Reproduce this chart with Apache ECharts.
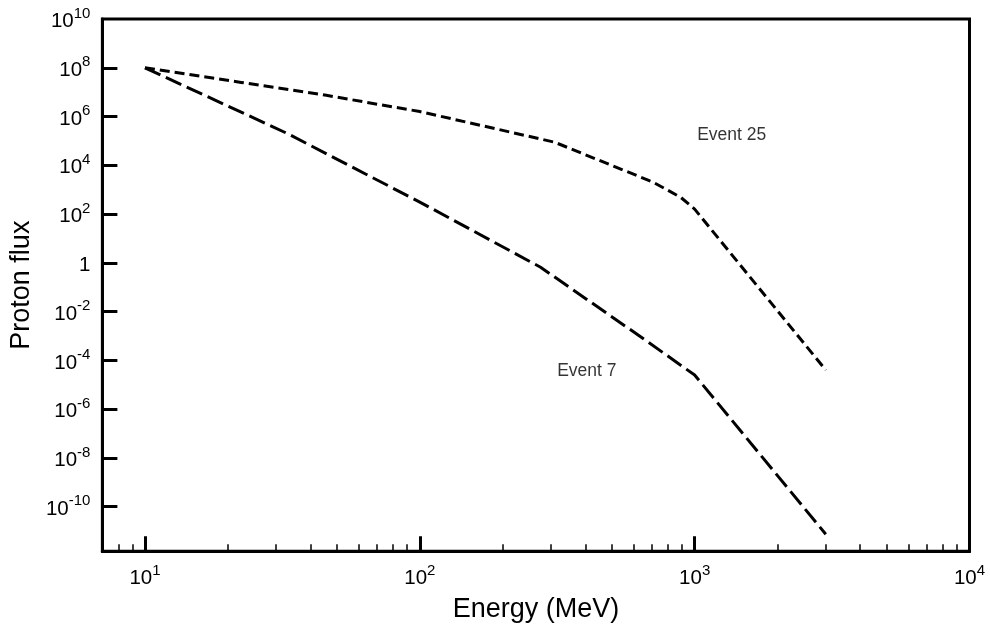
<!DOCTYPE html>
<html>
<head>
<meta charset="utf-8">
<script src="https://cdn.jsdelivr.net/npm/echarts@6/dist/echarts.min.js"></script>
<style>html,body{margin:0;padding:0;background:#fff}#c{width:990px;height:629px}</style>
</head>
<body>
<div id="c"></div>
<script>
// Data (energy in MeV, flux)
const energy25 = [10, 22.4, 45.7, 100, 309, 708, 891, 1000, 3000];
const flux25   = [1e8, 2.5e7, 7.4e6, 1.6e6, 8.9e4, 2.0e3, 4.8e2, 1.6e2, 4e-5];
const energy7  = [10, 33, 100, 275, 630, 1000, 3000];
const flux7    = [1e8, 2.0e5, 3.1e2, 0.66, 1.0e-3, 2.5e-5, 7.4e-12];

// Axis ticks
const xMajorExp = [1, 2, 3, 4];
const xMinorValues = [8, 9, 20, 30, 40, 50, 60, 70, 80, 90, 200, 300, 400, 500, 600, 700, 800, 900,
                      2000, 3000, 4000, 5000, 6000, 7000, 8000, 9000];
const yMajorExp = [-10, -8, -6, -4, -2, 0, 2, 4, 6, 8, 10];
const xRange = [7, 10000];
const yRangeExp = [-11.83, 10];

// Annotations
const labelTexts = ['Event 25', 'Event 7'];
const labelEnergy = [1021, 316];
const labelFlux = [1.8e5, 3.5e-5];

const L = Math.log10;
const FONT = "'Liberation Sans', Arial, Helvetica, sans-serif";

function pairs(xs, ys) { return xs.map((x, i) => [L(x), L(ys[i])]); }

const richLabel = {
  b:  { fontSize: 20.5, lineHeight: 20, verticalAlign: 'bottom', fontFamily: FONT, color: '#000' },
  s:  { fontSize: 15, lineHeight: 15, verticalAlign: 'top', fontFamily: FONT, color: '#000' },
  z:  { fontSize: 1, lineHeight: 26, fontFamily: FONT }
};
function expLabel(v) {
  const e = Math.round(v);
  if (e === 0) return '{z|\u200b}{b|1}';
  return '{z|\u200b}{b|10}{s|' + e + '}';
}

const chart = echarts.init(document.getElementById('c'), null, { renderer: 'canvas' });
chart.setOption({
  animation: false,
  backgroundColor: '#fff',
  grid: {
    left: 101.5, right: 20.5, top: 19, bottom: 77.7,
    show: true, borderColor: '#000', borderWidth: 3, backgroundColor: 'transparent'
  },
  xAxis: [
    {
      type: 'value', min: L(xRange[0]), max: L(xRange[1]), position: 'bottom',
      name: 'Energy (MeV)', nameLocation: 'middle', nameGap: 45,
      nameTextStyle: { fontSize: 27, fontFamily: FONT, color: '#000' },
      axisLine: { show: true, onZero: false, lineStyle: { color: '#000', width: 3 } },
      axisTick: { show: true, inside: true, length: 15, lineStyle: { color: '#000', width: 3 },
                  customValues: xMajorExp.slice(0, 3) },
      axisLabel: { show: true, margin: 12, customValues: xMajorExp, formatter: expLabel, rich: richLabel },
      splitLine: { show: false }
    },
    {
      type: 'value', min: L(xRange[0]), max: L(xRange[1]), position: 'bottom', offset: 0,
      axisLine: { show: false, onZero: false },
      axisTick: { show: true, inside: true, length: 7, lineStyle: { color: '#000', width: 1.5 },
                  customValues: xMinorValues.map(L) },
      axisLabel: { show: false },
      splitLine: { show: false }
    }
  ],
  yAxis: {
    type: 'value', min: yRangeExp[0], max: yRangeExp[1],
    name: 'Proton flux', nameLocation: 'middle', nameGap: 63,
    nameTextStyle: { fontSize: 27, fontFamily: FONT, color: '#000' },
    axisLine: { show: true, onZero: false, lineStyle: { color: '#000', width: 3 } },
    axisTick: { show: true, inside: true, length: 15, lineStyle: { color: '#000', width: 3 },
                customValues: yMajorExp.slice(0, -1) },
    axisLabel: { show: true, margin: 12, customValues: yMajorExp, formatter: expLabel, rich: richLabel },
    splitLine: { show: false }
  },
  series: [
    {
      name: 'Event 25', type: 'line', xAxisIndex: 0, yAxisIndex: 0,
      data: pairs(energy25, flux25), symbol: 'none', smooth: false,
      lineStyle: { color: '#000', width: 3, type: [10, 5], cap: 'butt' }
    },
    {
      name: 'Event 7', type: 'line', xAxisIndex: 0, yAxisIndex: 0,
      data: pairs(energy7, flux7), symbol: 'none', smooth: false,
      lineStyle: { color: '#000', width: 3, type: [17, 6], cap: 'butt' }
    },
    {
      name: 'labels', type: 'scatter', xAxisIndex: 0, yAxisIndex: 0,
      symbolSize: 0, silent: true,
      data: labelTexts.map((t, i) => ({ value: [L(labelEnergy[i]), L(labelFlux[i])], name: t })),
      label: { show: true, position: 'right', distance: 0, formatter: p => p.name,
               fontSize: 17.5, fontFamily: FONT, color: '#000' }
    }
  ]
});
</script>
</body>
</html>
